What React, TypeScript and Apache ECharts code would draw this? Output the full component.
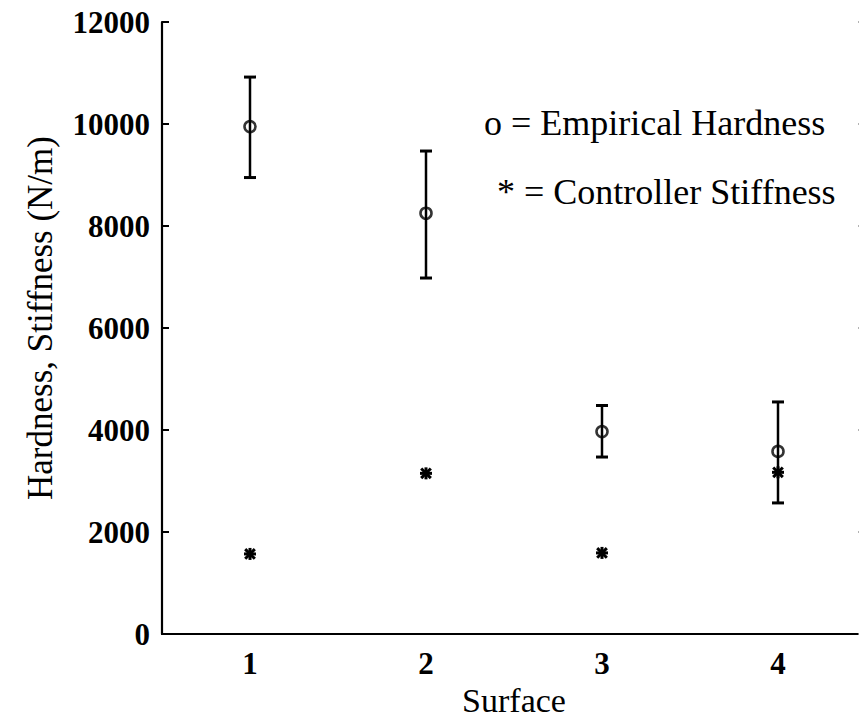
import React, { useEffect, useRef } from "react";
import * as echarts from "echarts";

const categories = ["1", "2", "3", "4"];
const hardness = [9950, 8250, 3970, 3580];
const hardnessUpper = [10920, 9470, 4480, 4550];
const hardnessLower = [8950, 6980, 3470, 2570];
const stiffness = [1570, 3150, 1590, 3170];
const yTicks = { min: 0, max: 12000, interval: 2000 };

const FONT = "'Liberation Serif', 'DejaVu Serif', serif";

export default function App() {
  const ref = useRef<HTMLDivElement>(null);
  useEffect(() => {
    document.body.style.margin = "0";
    const chart = echarts.init(ref.current!, null, { renderer: "svg" });
    const errData = categories.map((_, i) => [i, hardnessLower[i], hardnessUpper[i]]);
    const starData = categories.map((_, i) => [i, stiffness[i]]);
    const axisLine = { show: true, lineStyle: { color: "#000", width: 2.2 } };
    const tickStyle = { color: "#000", width: 2 };
    chart.setOption({
      animation: false,
      backgroundColor: "#fff",
      grid: { left: 162, top: 22, width: 704, height: 612, outerBoundsMode: "none", containLabel: false },
      xAxis: [
        {
          type: "category",
          data: categories,
          boundaryGap: true,
          position: "bottom",
          axisLine,
          axisTick: { inside: true, alignWithLabel: true, length: 9, lineStyle: tickStyle },
          axisLabel: { color: "#000", fontFamily: FONT, fontSize: 31, fontWeight: "bold", margin: 14 },
          name: "Surface",
          nameLocation: "middle",
          nameGap: 25,
          nameTextStyle: { color: "#000", fontFamily: FONT, fontSize: 34 },
          splitLine: { show: false },
        },
        {
          type: "category",
          data: categories,
          boundaryGap: true,
          position: "top",
          axisLine,
          axisTick: { inside: true, alignWithLabel: true, length: 9, lineStyle: tickStyle },
          axisLabel: { show: false },
          splitLine: { show: false },
        },
      ],
      yAxis: [
        {
          type: "value",
          ...yTicks,
          position: "left",
          axisLine,
          axisTick: { show: true, inside: true, length: 7, lineStyle: tickStyle },
          axisLabel: {
            color: "#000",
            fontFamily: FONT,
            fontSize: 31,
            fontWeight: "bold",
            margin: 12,
            formatter: (v: number) => String(v),
          },
          splitLine: { show: false },
          name: "Hardness, Stiffness (N/m)",
          nameLocation: "middle",
          nameGap: 104,
          nameTextStyle: { color: "#000", fontFamily: FONT, fontSize: 35, padding: [0, 0, 0, 20] },
        },
        {
          type: "value",
          ...yTicks,
          position: "right",
          axisLine: { show: false },
          axisTick: { show: true, inside: true, length: 8, lineStyle: { color: "#999", width: 1.5 } },
          axisLabel: { show: false },
          splitLine: { show: false },
        },
      ],
      graphic: [
        {
          type: "text",
          left: 484,
          top: 105,
          style: { text: "o = Empirical Hardness", font: `36px ${FONT}`, fill: "#000" },
        },
        {
          type: "text",
          left: 497,
          top: 174,
          style: { text: "* = Controller Stiffness", font: `36px ${FONT}`, fill: "#000" },
        },
      ],
      series: [
        {
          type: "custom",
          name: "error",
          data: errData,
          renderItem: (params: any, api: any) => {
            const x = api.value(0);
            const lo = api.coord([x, api.value(1)]);
            const hi = api.coord([x, api.value(2)]);
            const hw = 6;
            const style = { stroke: "#000", lineWidth: 2.5 };
            return {
              type: "group",
              children: [
                { type: "line", shape: { x1: lo[0], y1: lo[1], x2: hi[0], y2: hi[1] }, style },
                { type: "line", shape: { x1: lo[0] - hw, y1: lo[1], x2: lo[0] + hw, y2: lo[1] }, style: { ...style, lineWidth: 3 } },
                { type: "line", shape: { x1: hi[0] - hw, y1: hi[1], x2: hi[0] + hw, y2: hi[1] }, style: { ...style, lineWidth: 3 } },
              ],
            };
          },
          z: 2,
        },
        {
          type: "scatter",
          name: "Empirical Hardness",
          data: hardness,
          symbol: "circle",
          symbolSize: 11,
          itemStyle: { color: "rgba(0,0,0,0)", borderColor: "#000", borderWidth: 2.6 },
          z: 3,
        },
        {
          type: "custom",
          name: "Controller Stiffness",
          data: starData,
          renderItem: (params: any, api: any) => {
            const c = api.coord([api.value(0), api.value(1)]);
            const r = 6;
            const d = r * 0.8;
            const style = { stroke: "#000", lineWidth: 3 };
            return {
              type: "group",
              children: [
                { type: "line", shape: { x1: c[0] - r, y1: c[1], x2: c[0] + r, y2: c[1] }, style },
                { type: "line", shape: { x1: c[0], y1: c[1] - r, x2: c[0], y2: c[1] + r }, style },
                { type: "line", shape: { x1: c[0] - d, y1: c[1] - d, x2: c[0] + d, y2: c[1] + d }, style },
                { type: "line", shape: { x1: c[0] - d, y1: c[1] + d, x2: c[0] + d, y2: c[1] - d }, style },
              ],
            };
          },
          z: 4,
        },
      ],
    });
    return () => chart.dispose();
  }, []);
  return (
    <div
      ref={ref}
      style={{ position: "absolute", left: 0, top: 0, width: 859, height: 718, background: "#fff" }}
    />
  );
}
